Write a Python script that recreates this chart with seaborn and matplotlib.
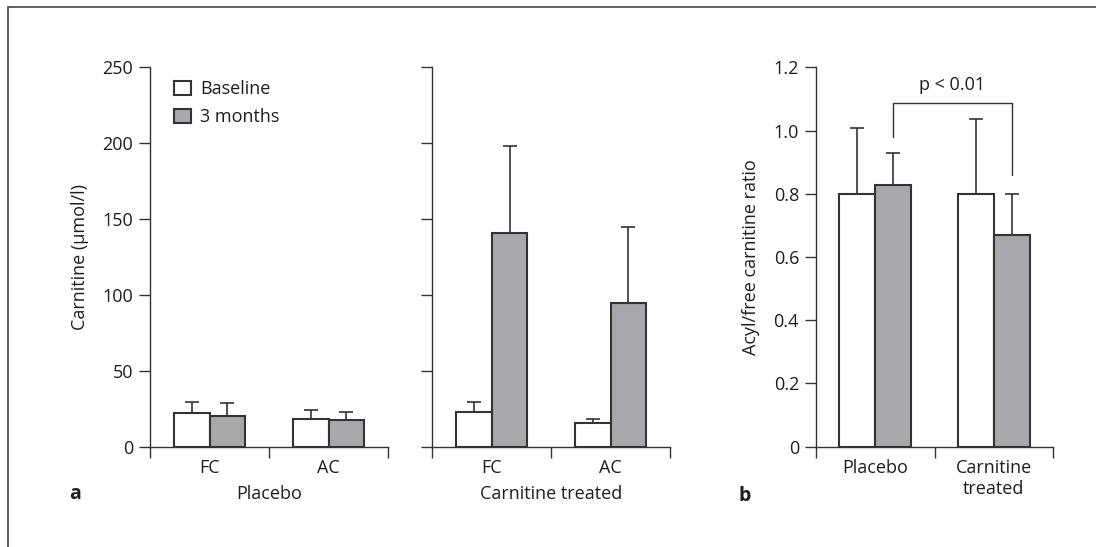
import matplotlib
matplotlib.use("Agg")
import matplotlib.pyplot as plt
import seaborn as sns
import pandas as pd
import numpy as np
from matplotlib.lines import Line2D
from matplotlib.ticker import FuncFormatter

# ---- data ----
measures = ["FC", "AC"]
time_levels = ["Baseline", "3 months"]
placebo_baseline = [22.4, 18.0]
placebo_baseline_err = [7.0, 6.2]
placebo_3m = [20.4, 17.4]
placebo_3m_err = [8.2, 5.7]
carn_baseline = [23.1, 15.8]
carn_baseline_err = [6.1, 2.4]
carn_3m = [140.8, 94.9]
carn_3m_err = [57.6, 50.1]

ratio_groups = ["Placebo", "Carnitine\ntreated"]
ratio_baseline = [0.80, 0.80]
ratio_baseline_err = [0.207, 0.238]
ratio_3m = [0.828, 0.670]
ratio_3m_err = [0.10, 0.128]

carn_yticks = [0, 50, 100, 150, 200, 250]
ratio_yticks = [0, 0.2, 0.4, 0.6, 0.8, 1.0, 1.2]

# ---- style ----
sns.set_style("ticks")
plt.rcParams["font.family"] = ["Open Sans", "DejaVu Sans"]
plt.rcParams["font.size"] = 13
DARK = "#333333"
TXT = "#1e1e1e"
GREY = "#a7a8ab"
palette = {"Baseline": "white", "3 months": GREY}

fig = plt.figure(figsize=(10.96, 5.47), dpi=100)
W, H = 1096, 547


def ax_rect(x0, x1, ytop, ybot):
    return [x0 / W, 1 - ybot / H, (x1 - x0) / W, (ybot - ytop) / H]


ax1 = fig.add_axes(ax_rect(150, 388, 67.3, 446.7))
ax2 = fig.add_axes(ax_rect(432.3, 670, 67.3, 446.7))
ax3 = fig.add_axes(ax_rect(815.7, 1053.3, 67.3, 446.7))


def make_df(cats, base, m3):
    return pd.DataFrame({
        "cat": list(cats) * 2,
        "time": [time_levels[0]] * len(cats) + [time_levels[1]] * len(cats),
        "value": list(base) + list(m3),
    })


def draw(ax, cats, base, base_err, m3, m3_err, ylim, yticks):
    df = make_df(cats, base, m3)
    sns.barplot(data=df, x="cat", y="value", hue="time", hue_order=time_levels,
                order=list(cats), palette=palette, width=0.6, saturation=1,
                edgecolor=DARK, linewidth=1.5, errorbar=None, ax=ax, legend=True)
    errs = [base_err, m3_err]
    for cont, err in zip(ax.containers, errs):
        xs = [p.get_x() + p.get_width() / 2 for p in cont.patches]
        ys = [p.get_height() for p in cont.patches]
        ax.errorbar(xs, ys, yerr=[np.zeros(len(err)), err], fmt="none",
                    ecolor=DARK, elinewidth=1.2, capsize=5, capthick=1.2, zorder=1)
    ax.set_xlim(-0.5, len(cats) - 0.5)
    ax.set_ylim(*ylim)
    ax.set_yticks(yticks)
    ax.set_xticks(range(len(cats)))
    ax.set_xticklabels(cats)
    ax.tick_params(axis="x", which="major", length=0, pad=9, colors=TXT)
    ax.set_xticks(np.arange(-0.5, len(cats)), minor=True)
    ax.tick_params(axis="x", which="minor", length=8, width=1, color=DARK,
                   direction="out")
    ax.tick_params(axis="y", length=8, width=1, color=DARK, direction="out",
                   pad=4, labelcolor=TXT)
    for s in ["top", "right"]:
        ax.spines[s].set_visible(False)
    for s in ["left", "bottom"]:
        ax.spines[s].set_color(DARK)
        ax.spines[s].set_linewidth(1)
    ax.set_xlabel("")
    ax.set_ylabel("")
    for p in ax.patches:
        p.set_zorder(2)


draw(ax1, measures, placebo_baseline, placebo_baseline_err, placebo_3m, placebo_3m_err,
     (0, 250), carn_yticks)
draw(ax2, measures, carn_baseline, carn_baseline_err, carn_3m, carn_3m_err,
     (0, 250), carn_yticks)
draw(ax3, ratio_groups, ratio_baseline, ratio_baseline_err, ratio_3m, ratio_3m_err,
     (0, 1.2), ratio_yticks)

ax2.set_yticklabels([])
ax2.get_legend().remove()
ax3.get_legend().remove()
ax3.yaxis.set_major_formatter(FuncFormatter(lambda v, p: "0" if v == 0 else f"{v:.1f}"))

leg = ax1.legend(loc="upper left", bbox_to_anchor=(0.046, 1.0), frameon=False,
                 handlelength=0.95, handleheight=0.8, handletextpad=0.5,
                 labelspacing=0.55, borderaxespad=0.3, fontsize=13)
for t in leg.get_texts():
    t.set_color(TXT)

ax1.set_ylabel("Carnitine (\u03bcmol/l)", fontsize=13, color=TXT, labelpad=10)
ax3.set_ylabel("Acyl/free carnitine ratio", fontsize=13, color=TXT, labelpad=10)

# group labels under panel a
fig.text(269 / W, 1 - 494 / H, "Placebo", ha="center", va="center", fontsize=13,
         color=TXT)
fig.text(551 / W, 1 - 494 / H, "Carnitine treated", ha="center", va="center",
         fontsize=13, color=TXT)
fig.text(75 / W, 1 - 494 / H, "a", ha="center", va="center", fontsize=14,
         fontweight="bold", color=TXT)
fig.text(745 / W, 1 - 496 / H, "b", ha="center", va="center", fontsize=14,
         fontweight="bold", color=TXT)

# significance bracket
c3 = ax3.containers[1].patches
xl = c3[0].get_x() + c3[0].get_width() / 2
xr = c3[1].get_x() + c3[1].get_width() / 2
ax3.plot([xl, xl, xr, xr], [0.978, 1.088, 1.088, 0.859], color=DARK, lw=1,
         clip_on=False)
ax3.text((xl + xr) / 2, 1.144, "p < 0.01", ha="center", va="center", fontsize=13,
         color=TXT)

# frame lines
fig.add_artist(Line2D([8 / W, 1.0], [1 - 7 / H, 1 - 7 / H], color="#555555", lw=1.3))
fig.add_artist(Line2D([8 / W, 8 / W], [0, 1 - 7 / H], color="#555555", lw=1.3))

fig.savefig("out.png", dpi=100)
